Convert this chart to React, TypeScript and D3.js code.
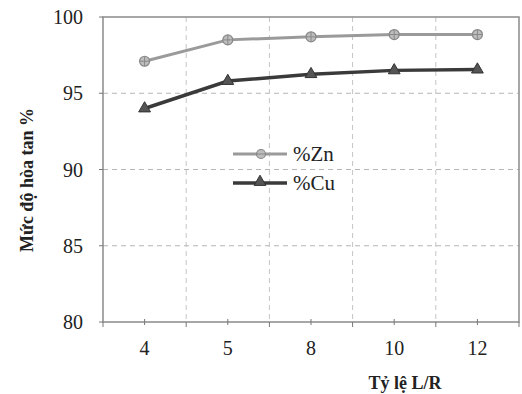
import * as d3 from "d3";

const ratios = ["4", "5", "8", "10", "12"];
const znValues = [97.1, 98.5, 98.7, 98.85, 98.85];
const cuValues = [94.0, 95.8, 96.25, 96.5, 96.55];
const yTicks = [80, 85, 90, 95, 100];

const W = 522;
const H = 394;
const margin = { left: 103, right: 3, top: 17, bottom: 72 };
const serif = "Liberation Serif";

export default function App() {
  const x = d3
    .scaleBand<string>()
    .domain(ratios)
    .range([margin.left, W - margin.right]);
  const y = d3
    .scaleLinear()
    .domain([80, 100])
    .range([H - margin.bottom, margin.top]);

  const cx = (d: string) => (x(d) ?? 0) + x.bandwidth() / 2;
  const line = d3
    .line<number>()
    .x((_, i) => cx(ratios[i]))
    .y((v) => y(v));

  const tri = d3.symbol(d3.symbolTriangle, 60)() as string;
  const boundaries = ratios.slice(1).map((r) => x(r) ?? 0);

  return (
    <svg width={W} height={H} style={{ position: "absolute", left: 0, top: 0, background: "#fff" }}>
      {/* grid */}
      {yTicks.slice(1, -1).map((t) => (
        <line
          key={"h" + t}
          x1={margin.left}
          x2={W - margin.right}
          y1={y(t)}
          y2={y(t)}
          stroke="#b5b5b5"
          strokeDasharray="5,4"
        />
      ))}
      {boundaries.map((b, i) => (
        <line
          key={"v" + i}
          x1={b}
          x2={b}
          y1={margin.top}
          y2={H - margin.bottom}
          stroke="#c4c4c4"
          strokeDasharray="5,4"
        />
      ))}
      {/* frame */}
      <rect
        x={margin.left}
        y={margin.top}
        width={W - margin.left - margin.right}
        height={H - margin.top - margin.bottom}
        fill="none"
        stroke="#8a8a8a"
        strokeWidth={1.5}
      />
      {/* y ticks */}
      {yTicks.map((t) => (
        <g key={"yt" + t}>
          <line x1={margin.left - 4} x2={margin.left} y1={y(t)} y2={y(t)} stroke="#777" />
          <text x={83} y={y(t) + 7} textAnchor="end" fontSize={20} fill="#222" style={{ fontFamily: serif }}>
            {t}
          </text>
        </g>
      ))}
      {/* x ticks */}
      {[margin.left, ...boundaries, W - margin.right].map((b, i) => (
        <line key={"xt" + i} x1={b} x2={b} y1={H - margin.bottom} y2={H - margin.bottom + 5} stroke="#777" />
      ))}
      {ratios.map((r) => (
        <line key={"xm" + r} x1={cx(r)} x2={cx(r)} y1={H - margin.bottom - 3} y2={H - margin.bottom + 3} stroke="#777" />
      ))}
      {ratios.map((r) => (
        <text
          key={"xl" + r}
          x={cx(r)}
          y={H - margin.bottom + 33}
          textAnchor="middle"
          fontSize={20}
          fill="#222"
          style={{ fontFamily: serif }}
        >
          {r}
        </text>
      ))}
      {/* series */}
      <path d={line(znValues) ?? ""} fill="none" stroke="#9a9a9a" strokeWidth={3} />
      <path d={line(cuValues) ?? ""} fill="none" stroke="#3a3a3a" strokeWidth={3.5} />
      {znValues.map((v, i) => (
        <g key={"zn" + i} transform={`translate(${cx(ratios[i])},${y(v)})`}>
          <circle r={5} fill="#bdbdbd" stroke="#888" strokeWidth={1.2} />
          <line x1={-5} x2={5} stroke="#888" />
          <line y1={-5} y2={5} stroke="#888" />
        </g>
      ))}
      {cuValues.map((v, i) => (
        <path
          key={"cu" + i}
          d={tri}
          transform={`translate(${cx(ratios[i])},${y(v)})`}
          fill="#555"
          stroke="#333"
          strokeWidth={1}
        />
      ))}
      {/* legend */}
      <g>
        <line x1={233} x2={287} y1={154} y2={154} stroke="#9a9a9a" strokeWidth={3} />
        <g transform="translate(261,154)">
          <circle r={4.5} fill="#bdbdbd" stroke="#888" strokeWidth={1.2} />
          <line x1={-4.5} x2={4.5} stroke="#888" />
        </g>
        <text x={293} y={161} fontSize={21} fill="#222" style={{ fontFamily: serif }}>%Zn</text>
        <line x1={233} x2={287} y1={183} y2={183} stroke="#3a3a3a" strokeWidth={3.5} />
        <path d={tri} transform="translate(260,182)" fill="#555" stroke="#333" />
        <text x={293} y={190} fontSize={21} fill="#222" style={{ fontFamily: serif }}>%Cu</text>
      </g>
      {/* axis titles */}
      <text
        transform="translate(33,180) rotate(-90)"
        textAnchor="middle"
        fontSize={18}
        fontWeight="bold"
        fill="#222"
        style={{ fontFamily: serif }}
      >
        Mức độ hòa tan %
      </text>
      <text
        x={405}
        y={389}
        textAnchor="middle"
        fontSize={18}
        fontWeight="bold"
        fill="#222"
        style={{ fontFamily: serif }}
      >
        Tỷ lệ L/R
      </text>
    </svg>
  );
}
